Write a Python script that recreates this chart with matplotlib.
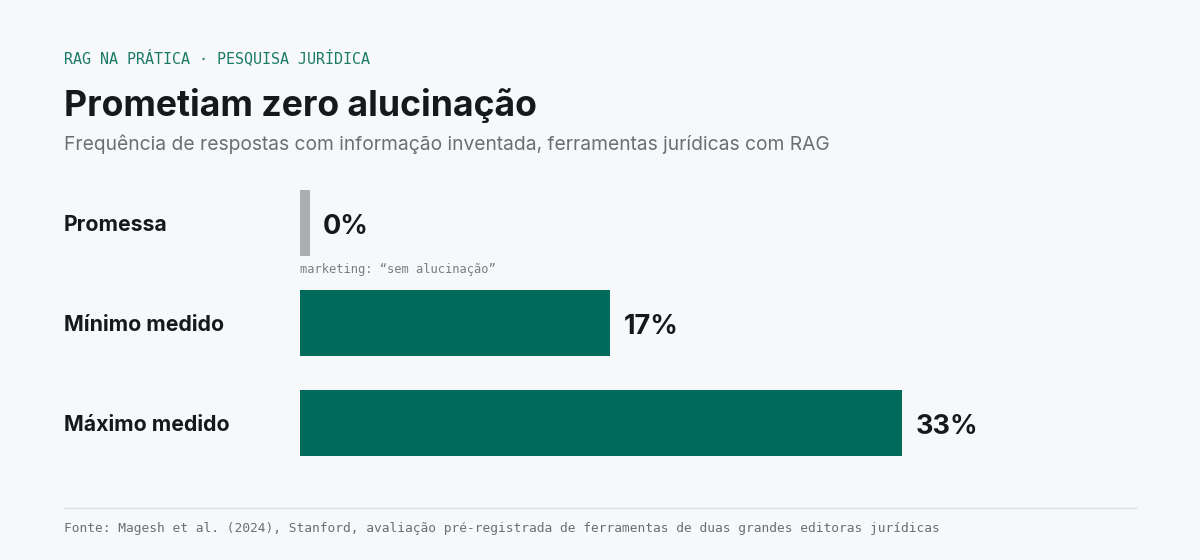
import matplotlib
matplotlib.use('Agg')
import matplotlib.pyplot as plt
from matplotlib.transforms import blended_transform_factory

# data
categories = ['Promessa', 'Mínimo medido', 'Máximo medido']
values = [0, 17, 33]
kicker = 'RAG NA PRÁTICA · PESQUISA JURÍDICA'
title = 'Prometiam zero alucinação'
subtitle = 'Frequência de respostas com informação inventada, ferramentas jurídicas com RAG'
note = 'marketing: “sem alucinação”'
source = ('Fonte: Magesh et al. (2024), Stanford, avaliação pré-registrada de '
          'ferramentas de duas grandes editoras jurídicas')

BG = '#f7f8fa'
GREEN = '#006b5a'
GRAY_BAR = '#a9aeb0'
DARK = '#17181b'
SANS = ['Inter', 'DejaVu Sans']
MONO = ['DejaVu Sans Mono']

W, H = 1200, 560
fig = plt.figure(figsize=(W / 100, H / 100), dpi=100, facecolor=BG)


def fy(py):
    return 1 - py / H


# header
fig.text(64 / W, fy(63), kicker, family=MONO, fontsize=10.8, color='#1b7a66', va='baseline')
fig.text(64 / W, fy(116), title, family=SANS, fontsize=25.6, weight='bold', color=DARK, va='baseline')
fig.text(64 / W, fy(150), subtitle, family=SANS, fontsize=13.85, color='#6b6e73', va='baseline')

# bars
ax = fig.add_axes([300 / W, fy(473), 602 / W, 300 / H])
ax.set_facecolor(BG)
stub = 0.55  # minimum visible width for the 0% bar
ypos = list(range(len(categories)))
widths = [max(v, stub) for v in values]
colors = [GRAY_BAR if v == 0 else GREEN for v in values]
ax.barh(ypos, widths, height=0.66, color=colors, left=0)
ax.set_xlim(0, 33)
ax.set_ylim(len(categories) - 0.5, -0.5)
ax.axis('off')

trans = blended_transform_factory(fig.transFigure, ax.transData)
for y, cat, w, v in zip(ypos, categories, widths, values):
    ax.text(64 / W, y + 0.08, cat, transform=trans, family=SANS, fontsize=15.3, weight='bold',
            color=DARK, va='baseline', ha='left')
    ax.annotate(f'{v}%', xy=(w, y + 0.11), xytext=(9.5, 0), textcoords='offset points',
                family=SANS, fontsize=19.5, weight='bold', color=DARK,
                va='baseline', ha='left', annotation_clip=False)

fig.text(300 / W, fy(273), note, family=MONO, fontsize=8.7, color='#7a7d82', va='baseline')

# footer
fig.add_artist(plt.Line2D([64 / W, 1136 / W], [fy(508), fy(508)], color='#dcdee1', lw=1))
fig.text(64 / W, fy(532), source, family=MONO, fontsize=9.3, color='#6b6e73', va='baseline')

fig.savefig('out.png', dpi=100, facecolor=BG)
